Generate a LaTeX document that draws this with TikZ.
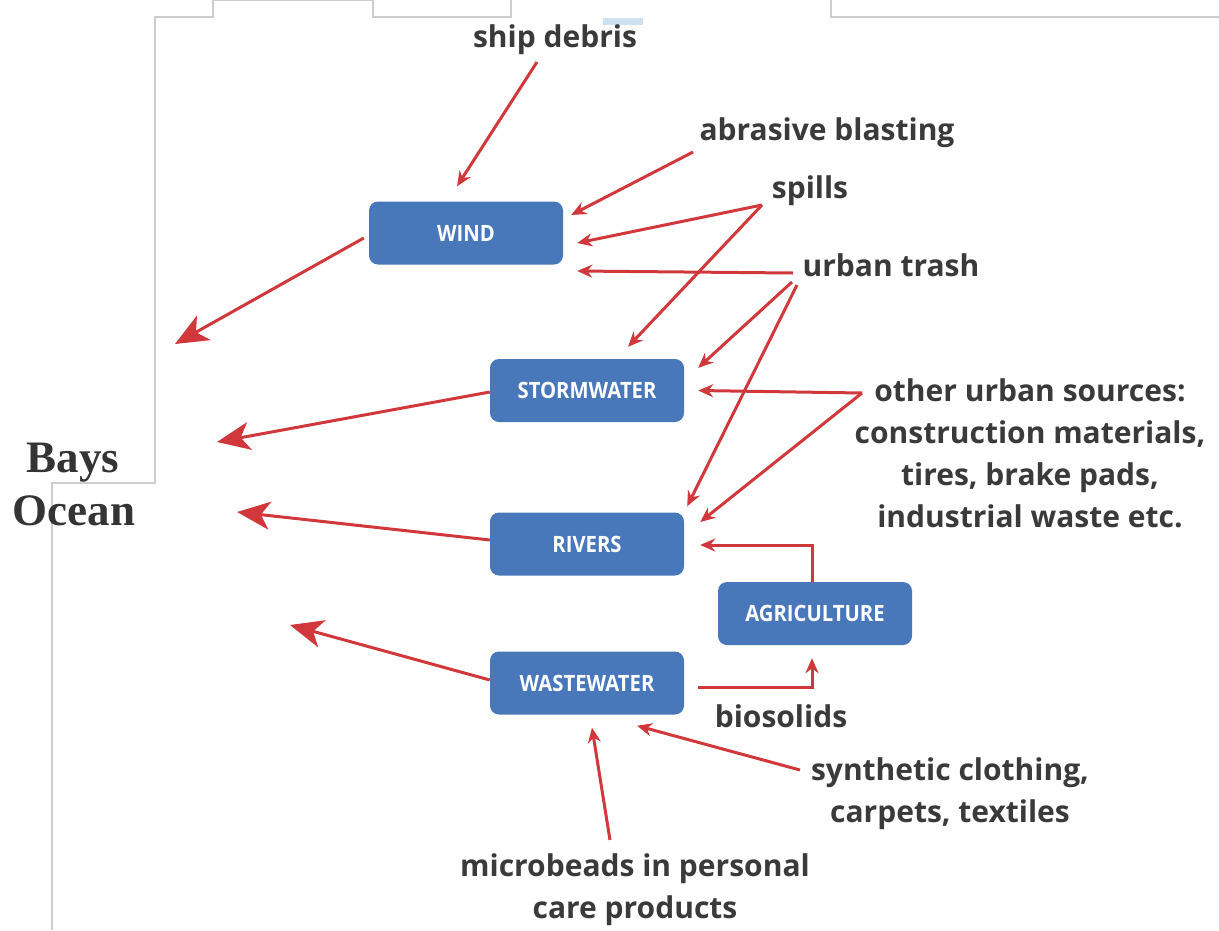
\documentclass[tikz,border=0pt]{standalone}
\usepackage{fontspec}
\setmainfont{Open Sans}
\newfontfamily\boxfont[FakeStretch=0.9]{Open Sans}
\newfontfamily\serifbold{Liberation Serif}
\usetikzlibrary{arrows.meta,calc}
\definecolor{boxblue}{RGB}{72,120,185}
\definecolor{arrred}{RGB}{208,56,60}
\definecolor{labgray}{RGB}{58,58,58}
\definecolor{framegray}{RGB}{205,205,205}
\definecolor{paleblue}{RGB}{205,225,242}
\begin{document}
\begin{tikzpicture}[x=1pt,y=-1pt,
  box/.style={fill=boxblue, rounded corners=9pt, minimum width=194pt, minimum height=63pt, text=white, font=\boxfont\bfseries\fontsize{22.5}{22.5}\selectfont, inner sep=0pt},
  lab/.style={text=labgray, font=\bfseries\fontsize{30}{30}\selectfont, inner sep=0pt, anchor=base},
  mlab/.style={text=labgray, font=\bfseries\fontsize{30}{42}\selectfont, inner sep=0pt, align=center},
  big/.style={text=labgray!90!black, font=\serifbold\bfseries\fontsize{45}{45}\selectfont, inner sep=0pt, anchor=base},
  flow/.style={draw=arrred, line width=3pt, -{Stealth[length=15pt,width=13pt]}},
  outflow/.style={draw=arrred, line width=3pt, -{Stealth[length=33pt,width=28pt,inset=9pt]}},
  frame/.style={draw=framegray, line width=1.3pt}
]
\useasboundingbox (0,0) rectangle (1219,930);
% frame lines
\draw[frame] (1219,17) -- (831,17) -- (831,0);
\draw[frame] (511,0) -- (511,17) -- (373,17) -- (373,0) -- (213,0) -- (213,17) -- (155,17) -- (155,483) -- (52,483) -- (52,930);
\fill[paleblue] (603,18) rectangle (643,25);
% boxes
\node[box] (wind) at (466,233) {WIND};
\node[box] (storm) at (587,390.5) {STORMWATER};
\node[box] (rivers) at (587,544) {RIVERS};
\node[box] (waste) at (587,683) {WASTEWATER};
\node[box] (agri) at (815,613.5) {AGRICULTURE};
% labels
\node[lab] (ship) at (555,47) {ship debris};
\node[lab] (abr) at (827,140) {abrasive blasting};
\node[lab] (spills) at (810,198) {spills};
\node[lab] (urban) at (891,276) {urban trash};
\node[mlab] (other) at (1030,453) {other urban sources:\\construction materials,\\tires, brake pads,\\industrial waste etc.};
\node[lab] (bio) at (781,727) {biosolids};
\node[mlab] (synth) at (950,794) {synthetic clothing,\\carpets, textiles};
\node[mlab] (micro) at (635,890) {microbeads in personal\\care products};
\node[big] (bays) at (73,472) {Bays};
\node[big] (ocean) at (74,525) {Ocean};
% arrow start points
\coordinate (sd) at (537,62);
\coordinate (ab) at (693,152);
\coordinate (sp) at (762,205);
\coordinate (ut1) at (793,273);
\coordinate (ut2) at (792,282);
\coordinate (ut3) at (797,285);
\coordinate (ou) at (862,393);
\coordinate (sy) at (800,770);
\coordinate (mb) at (610,840);
% outflow tips
\coordinate (o1) at (175,344);
\coordinate (o2) at (217,442);
\coordinate (o3) at (237,512);
\coordinate (o4) at (290,625);
% inflows
\draw[flow] (sd) -- ([shift={(-9,-15)}]wind.north);
\draw[flow] (ab) -- ([shift={(8,-18)}]wind.east);
\draw[flow] (sp) -- ([shift={(14,10)}]wind.east);
\draw[flow] (sp) -- ([shift={(41,-12)}]storm.north);
\draw[flow] (ut1) -- ([shift={(14,38)}]wind.east);
\draw[flow] (ut2) -- ([shift={(14,9)}]storm.north east);
\draw[flow] (ut3) -- ([shift={(3,-6)}]rivers.north east);
\draw[flow] (ou) -- ([shift={(14,0)}]storm.east);
\draw[flow] (ou) -- ([shift={(16,-22)}]rivers.east);
\draw[flow] ([shift={(-3,0)}]agri.north) |- ([shift={(16,1)}]rivers.east);
\draw[flow] ([shift={(14,4)}]waste.east) -| ([shift={(-3,13)}]agri.south);
\draw[flow] (sy) -- ([shift={(50,11)}]waste.south);
\draw[flow] (mb) -- ([shift={(5,13)}]waste.south);
% outflows
\draw[outflow] ([shift={(-5,5)}]wind.west) -- (o1);
\draw[outflow] ([shift={(0,1.5)}]storm.west) -- (o2);
\draw[outflow] ([shift={(0,-4)}]rivers.west) -- (o3);
\draw[outflow] ([shift={(0,-3)}]waste.west) -- (o4);
\end{tikzpicture}
\end{document}
